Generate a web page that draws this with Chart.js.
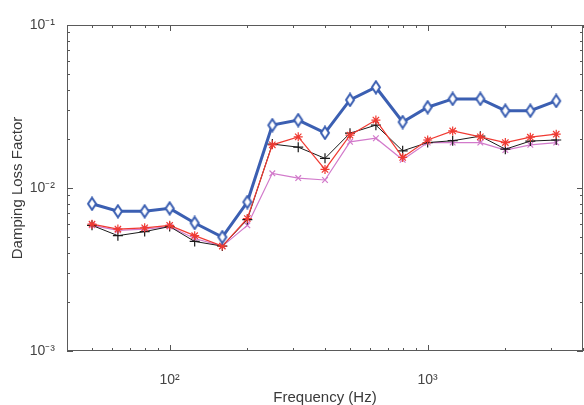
<!DOCTYPE html>
<html>
<head>
<meta charset="utf-8">
<script src="https://cdn.jsdelivr.net/npm/chart.js@4/dist/chart.umd.min.js"></script>
<style>
  html, body { margin: 0; padding: 0; background: #ffffff; }
  #wrap { width: 584px; height: 405px; position: relative; }
</style>
</head>
<body>
<div id="wrap"><canvas id="c" width="584" height="405"></canvas></div>
<script>
// Third-octave band centre frequencies (Hz)
const frequencies = [50, 63, 80, 100, 125, 160, 200, 250, 315, 400, 500, 630, 800, 1000, 1250, 1600, 2000, 2500, 3150];

// Damping loss factor series
const seriesBlue  = [0.0080, 0.0072, 0.0072, 0.0075, 0.0061, 0.0050, 0.0082, 0.0243, 0.0261, 0.0218, 0.0347, 0.0415, 0.0254, 0.0313, 0.0352, 0.0352, 0.0298, 0.0298, 0.0342];
const seriesRed   = [0.0060, 0.0056, 0.0057, 0.0059, 0.0051, 0.0044, 0.0065, 0.0184, 0.0206, 0.0130, 0.0211, 0.0261, 0.0154, 0.0197, 0.0224, 0.0206, 0.0190, 0.0205, 0.0214];
const seriesBlack = [0.0059, 0.0051, 0.0054, 0.0058, 0.0047, 0.0044, 0.0064, 0.0186, 0.0178, 0.0152, 0.0217, 0.0243, 0.0169, 0.0190, 0.0195, 0.0208, 0.0173, 0.0194, 0.0197];
const seriesPink  = [0.0059, 0.0055, 0.0056, 0.0058, 0.0049, 0.0044, 0.0059, 0.0123, 0.0115, 0.0112, 0.0192, 0.0202, 0.0149, 0.0190, 0.0190, 0.0190, 0.0171, 0.0184, 0.0190];

// Axis ranges and tick labels
const xRange = [40, 4000];
const yRange = [0.001, 0.1];
const xTickLabels = { 100: '10\u00B2', 1000: '10\u00B3' };
const yTickLabels = { 0.001: '10\u207B\u00B3', 0.01: '10\u207B\u00B2', 0.1: '10\u207B\u00B9' };

function logTicks(min, max) {
  const out = [];
  let dec = Math.pow(10, Math.floor(Math.log10(min) + 1e-9));
  while (dec <= max * 1.0001) {
    for (let m = 1; m <= 9; m++) {
      const v = +(m * dec).toPrecision(6);
      if (v >= min * 0.9999 && v <= max * 1.0001) out.push(v);
    }
    dec *= 10;
  }
  return out;
}
function isDecade(v) {
  const l = Math.log10(v);
  return Math.abs(l - Math.round(l)) < 1e-6;
}
function labelFor(map, v) {
  for (const k in map) { if (Math.abs(+k - v) / v < 1e-6) return map[k]; }
  return '';
}

// Tall hollow diamond marker
function makeDiamond(color) {
  const w = 12, h = 15;
  const c = document.createElement('canvas');
  c.width = w; c.height = h;
  const g = c.getContext('2d');
  g.beginPath();
  g.moveTo(w / 2, 1.5);
  g.lineTo(w - 2, h / 2);
  g.lineTo(w / 2, h - 1.5);
  g.lineTo(2, h / 2);
  g.closePath();
  g.fillStyle = '#ffffff';
  g.fill();
  g.lineWidth = 2;
  g.strokeStyle = color;
  g.stroke();
  return c;
}

const blueColor = '#3b5fb2';
const diamond = makeDiamond(blueColor);

function pts(arr) { return frequencies.map((f, i) => ({ x: f, y: arr[i] })); }

const boxPlugin = {
  id: 'boxTicks',
  afterDatasetsDraw(chart) {
    const ctx = chart.ctx;
    const a = chart.chartArea;
    const xs = chart.scales.x, ys = chart.scales.y;
    ctx.save();
    ctx.strokeStyle = '#555555';
    ctx.lineWidth = 1;
    ctx.beginPath();
    xs.ticks.forEach(t => {
      const px = Math.round(xs.getPixelForValue(t.value)) + 0.5;
      const len = isDecade(t.value) ? 6 : 3;
      ctx.moveTo(px, a.bottom); ctx.lineTo(px, a.bottom - len);
      ctx.moveTo(px, a.top); ctx.lineTo(px, a.top + len);
    });
    ys.ticks.forEach(t => {
      const py = Math.round(ys.getPixelForValue(t.value)) + 0.5;
      const len = isDecade(t.value) ? 6 : 3;
      ctx.moveTo(a.left, py); ctx.lineTo(a.left + len, py);
      ctx.moveTo(a.right, py); ctx.lineTo(a.right - len, py);
    });
    ctx.stroke();
    ctx.strokeStyle = '#5a5a5a';
    ctx.strokeRect(Math.round(a.left) + 0.5, Math.round(a.top) + 0.5,
                   Math.round(a.right - a.left) - 1, Math.round(a.bottom - a.top) - 1);
    ctx.restore();
  }
};

new Chart(document.getElementById('c'), {
  type: 'line',
  data: {
    datasets: [
      {
        label: 'Black',
        data: pts(seriesBlack),
        borderColor: '#1a1a1a', backgroundColor: '#1a1a1a',
        borderWidth: 1, pointStyle: 'cross', pointRadius: 5, pointBorderWidth: 1.2,
        pointBorderColor: '#1a1a1a', tension: 0, order: 3
      },
      {
        label: 'Pink',
        data: pts(seriesPink),
        borderColor: '#d27acb', backgroundColor: '#d27acb',
        borderWidth: 1.2, pointStyle: 'crossRot', pointRadius: 4, pointBorderWidth: 1.2,
        pointBorderColor: '#d27acb', tension: 0, order: 4
      },
      {
        label: 'Red',
        data: pts(seriesRed),
        borderColor: '#f03a32', backgroundColor: '#f03a32',
        borderWidth: 1.2, pointStyle: 'star', pointRadius: 4.5, pointBorderWidth: 1.2,
        pointBorderColor: '#f03a32', tension: 0, order: 2
      },
      {
        label: 'Blue',
        data: pts(seriesBlue),
        borderColor: blueColor, backgroundColor: '#ffffff',
        borderWidth: 3, pointStyle: diamond, pointRadius: 6,
        tension: 0, order: 1
      }
    ]
  },
  options: {
    responsive: false,
    animation: false,
    devicePixelRatio: 1,
    layout: { autoPadding: false, padding: { top: 25, right: 1, left: 0, bottom: 0 } },
    plugins: { legend: { display: false }, tooltip: { enabled: false } },
    scales: {
      x: {
        type: 'logarithmic',
        min: xRange[0], max: xRange[1],
        grid: { display: false, drawTicks: true, tickLength: 18 },
        border: { display: false },
        afterBuildTicks: s => { s.ticks = logTicks(xRange[0], xRange[1]).map(v => ({ value: v })); },
        afterFit: s => { s.height = 54; s.paddingLeft = 0; s.paddingRight = 0; },
        ticks: {
          autoSkip: false, maxRotation: 0, padding: 3,
          color: '#444444',
          font: { family: 'Arial, "Liberation Sans", sans-serif', size: 14 },
          callback: v => labelFor(xTickLabels, v)
        },
        title: {
          display: true, text: 'Frequency (Hz)', color: '#3a3a3a',
          font: { family: 'Arial, "Liberation Sans", sans-serif', size: 15, lineHeight: 1 },
          padding: { top: 0, bottom: 0 }
        }
      },
      y: {
        type: 'logarithmic',
        min: yRange[0], max: yRange[1],
        grid: { display: false, drawTicks: true, tickLength: 9 },
        border: { display: false },
        afterBuildTicks: s => { s.ticks = logTicks(yRange[0], yRange[1]).map(v => ({ value: v })); },
        afterFit: s => { s.width = 67; s.paddingTop = 0; s.paddingBottom = 0; },
        ticks: {
          autoSkip: false, padding: 3,
          color: '#444444',
          font: { family: 'Arial, "Liberation Sans", sans-serif', size: 14 },
          callback: v => labelFor(yTickLabels, v)
        },
        title: {
          display: true, text: 'Damping Loss Factor', color: '#3a3a3a',
          font: { family: 'Arial, "Liberation Sans", sans-serif', size: 15, lineHeight: 1 },
          padding: { top: 10, bottom: 0 }
        }
      }
    }
  },
  plugins: [boxPlugin]
});
</script>
</body>
</html>
